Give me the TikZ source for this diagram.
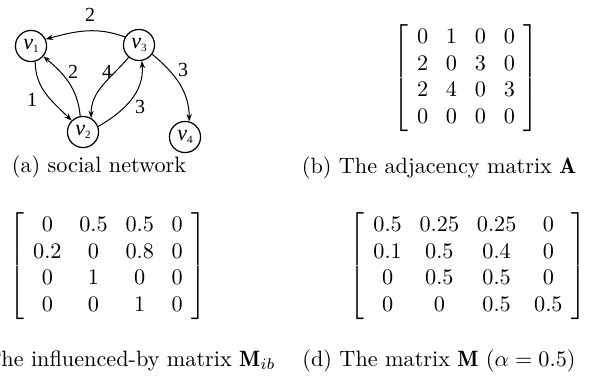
\documentclass[tikz,border=0pt]{standalone}
\usepackage{fontspec}
\newfontfamily\tms{Liberation Serif}
\usetikzlibrary{arrows.meta}
\newcommand{\vlab}[1]{\textit{v}\raisebox{-0.35ex}{\fontsize{5}{5}\selectfont #1}}
\begin{document}
\begin{tikzpicture}[x=0.45pt,y=-0.45pt,
  vert/.style={draw,circle,line width=0.55pt,minimum size=14pt,inner sep=0pt,font=\tms\fontsize{10}{10}\selectfont},
  link/.style={line width=0.45pt,-{Stealth[length=3.3pt,width=2.4pt]}},
  wt/.style={font=\tms\fontsize{9}{9}\selectfont,inner sep=0pt},
  captxt/.style={font=\fontsize{10}{12}\selectfont,inner sep=0pt},
  mat/.style={font=\fontsize{10}{12}\selectfont,inner sep=0pt}]
\useasboundingbox (0,0) rectangle (598,380);
\clip (0,0) rectangle (598,380);

% (a) social network graph
\node[vert] (v1) at (31,46) {\vlab{1}};
\node[vert] (v3) at (139,45) {\vlab{3}};
\node[vert] (v2) at (83,132) {\vlab{2}};
\node[vert] (v4) at (185,137) {\vlab{4}};

\draw[link] (v3.150) to[out=160,in=15] (v1.25);
\draw[link] (v1.-75) to[out=-90,in=135] (v2.135);
\draw[link] (v2.100) to[out=95,in=-40] (v1.-40);
\draw[link] (v3.-130) to[out=-130,in=90] (v2.60);
\draw[link] (v2.20) to[out=30,in=-85] (v3.-80);
\draw[link] (v3.-35) to[out=-40,in=90] (v4.75);

\node[wt] (w31) at (90,15) {2};
\node[wt] (w12) at (32,100) {1};
\node[wt] (w21) at (73,72) {2};
\node[wt] (w32) at (107,72) {4};
\node[wt] (w23) at (140,107) {3};
\node[wt] (w34) at (183,70) {3};

\node[captxt,anchor=base] (ca) at (99,172) {(a) social network};

% (b) adjacency matrix
\setlength{\arraycolsep}{4pt}
\node[mat] (mb) at (466,78) {$\left[\begin{array}{cccc}
0&1&0&0\\ 2&0&3&0\\ 2&4&0&3\\ 0&0&0&0\end{array}\right]$};
\node[captxt,anchor=base] (cb) at (439,173) {(b) The adjacency matrix $\mathbf{A}$};

% (c) influenced-by matrix
\node[mat] (mc) at (108,266) {$\left[\begin{array}{cccc}
0&0.5&0.5&0\\ 0.2&0&0.8&0\\ 0&1&0&0\\ 0&0&1&0\end{array}\right]$};
\node[captxt,anchor=base west] (cc) at (1,366) {\llap{(c) T}he influenced-by matrix $\mathbf{M}_{ib}$};

% (d) combined matrix
\node[mat] (md) at (468,266) {$\left[\begin{array}{cccc}
0.5&0.25&0.25&0\\ 0.1&0.5&0.4&0\\ 0&0.5&0.5&0\\ 0&0&0.5&0.5\end{array}\right]$};
\node[captxt,anchor=base] (cd) at (439,366) {(d) The matrix $\mathbf{M}$ ($\alpha=0.5$)};
\end{tikzpicture}
\end{document}
